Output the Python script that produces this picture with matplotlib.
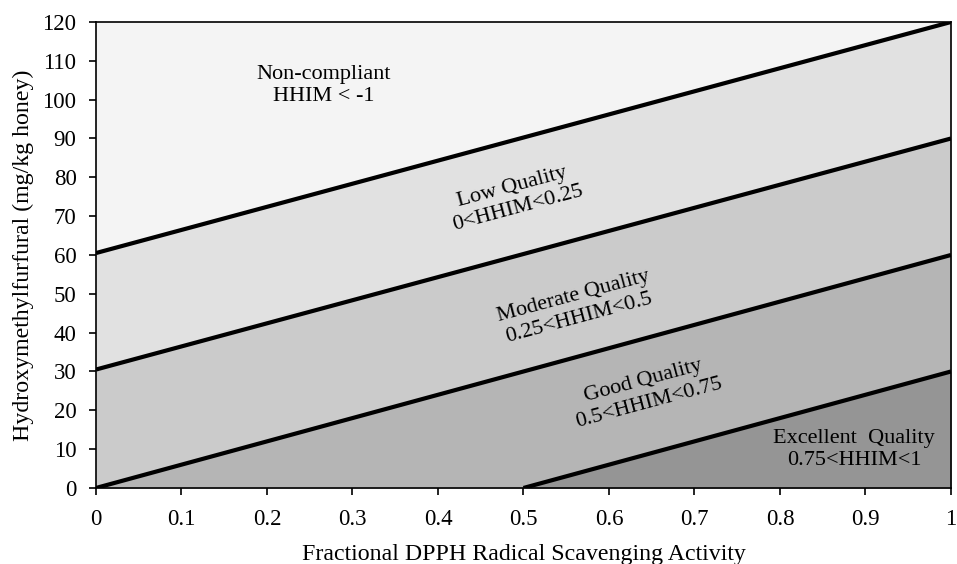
import matplotlib.pyplot as plt

# boundary lines between HHIM classes (endpoints)
x_ends = [0, 1]
line_nonc = [60.5, 120]      # HHIM = -1 boundary
line_low = [30.5, 90]        # HHIM = 0.25 boundary
line_mod = [0, 60]           # HHIM = 0.5 boundary
x_exc = [0.5, 1]
line_exc = [0, 30]           # HHIM = 0.75 boundary

zone_labels = ['Non-compliant\nHHIM < -1',
               'Low Quality\n0<HHIM<0.25',
               'Moderate Quality\n0.25<HHIM<0.5',
               'Good Quality\n0.5<HHIM<0.75',
               'Excellent  Quality\n0.75<HHIM<1']
zone_colors = ['#f4f4f4', '#e1e1e1', '#cbcbcb', '#b5b5b5', '#959595']

x_ticks = [0, 0.1, 0.2, 0.3, 0.4, 0.5, 0.6, 0.7, 0.8, 0.9, 1]
x_tick_labels = ['0', '0.1', '0.2', '0.3', '0.4', '0.5', '0.6', '0.7', '0.8', '0.9', '1']
y_ticks = list(range(0, 121, 10))

plt.rcParams['font.family'] = ['Liberation Serif', 'DejaVu Serif']

fig = plt.figure(figsize=(9.57, 5.64), dpi=100)
ax = fig.add_axes([0.1003, 0.1348, 0.8934, 0.8262])

# shaded zones, painted from top down
ax.fill_between(x_ends, 0, 120, color=zone_colors[0], lw=0)
ax.fill_between(x_ends, 0, line_nonc, color=zone_colors[1], lw=0)
ax.fill_between(x_ends, 0, line_low, color=zone_colors[2], lw=0)
ax.fill_between(x_ends, 0, line_mod, color=zone_colors[3], lw=0)
ax.fill_between(x_exc, 0, line_exc, color=zone_colors[4], lw=0)

for xs, ys in [(x_ends, line_nonc), (x_ends, line_low), (x_ends, line_mod), (x_exc, line_exc)]:
    ax.plot(xs, ys, color='black', lw=3, solid_capstyle='butt')

# zone annotations
fs = 16
ax.text(0.266, 103.6, zone_labels[0], ha='center', va='center', fontsize=fs, linespacing=1.2)
ax.text(0.490, 74.7, zone_labels[1], ha='center', va='center', fontsize=fs, rotation=15, linespacing=1.2)
ax.text(0.562, 46.5, zone_labels[2], ha='center', va='center', fontsize=fs, rotation=15, linespacing=1.2)
ax.text(0.643, 24.7, zone_labels[3], ha='center', va='center', fontsize=fs, rotation=15, linespacing=1.2)
ax.text(0.887, 10, zone_labels[4], ha='center', va='center', fontsize=fs, linespacing=1.2)

ax.set_xlim(0, 1)
ax.set_ylim(0, 120)
ax.set_xticks(x_ticks)
ax.set_xticklabels(x_tick_labels)
ax.set_yticks(y_ticks)
ax.tick_params(direction='out', length=5, width=1.2, labelsize=16.5)
ax.tick_params(axis='y', pad=9)
ax.tick_params(axis='x', pad=10)
for s in ax.spines.values():
    s.set_linewidth(1.2)

ax.set_xlabel('Fractional DPPH Radical Scavenging Activity', fontsize=17.2, labelpad=10)
ax.set_ylabel('Hydroxymethylfurfural (mg/kg honey)', fontsize=17.2, labelpad=6)

plt.savefig('out.png', dpi=100)
